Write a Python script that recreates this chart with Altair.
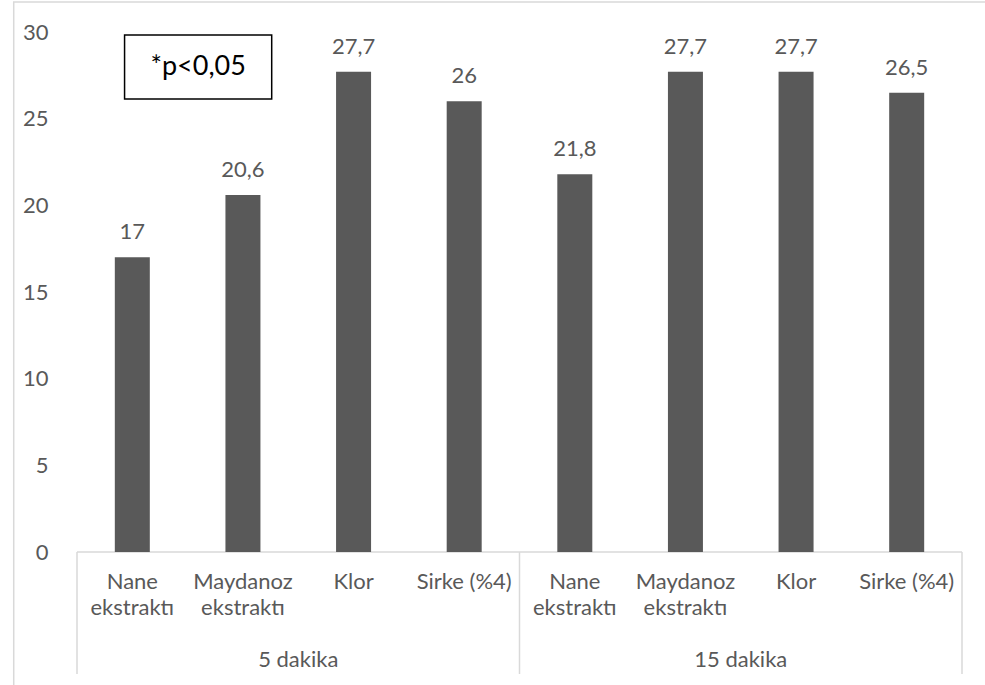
import altair as alt
import pandas as pd

# Data
groups = ["5 dakika"] * 4 + ["15 dakika"] * 4
treatments = ["Nane\nekstraktı", "Maydanoz\nekstraktı", "Klor", "Sirke (%4)"] * 2
values = [17, 20.6, 27.7, 26, 21.8, 27.7, 27.7, 26.5]
group_names = ["5 dakika", "15 dakika"]
note = "*p<0,05"

W, H = 895, 520
FONT = "Lato"
FS = 22
GREY = "#595959"
LINE = "#d9d9d9"

df = pd.DataFrame({
    "group": groups,
    "treatment": treatments,
    "value": values,
    "pos": [i + 0.5 for i in range(len(values))],
})
gdf = pd.DataFrame({"group": group_names, "pos": [2.0, 6.0], "row": [-6.23, -6.23]})
sep = pd.DataFrame({"edge": [0.0, 4.0, 8.0], "top": [0.0] * 3, "bottom": [-7.04] * 3})
axis_line = pd.DataFrame({"x0": [0.0], "x1": [8.0], "y0": [0.0]})
# note box and outer frame, in axis units
note_df = pd.DataFrame({"t": [note], "x0": [0.43], "x1": [1.76], "y0": [26.13], "y1": [29.83],
                        "xc": [1.095], "yc": [27.98]})
frame_df = pd.DataFrame({"x0": [-0.572], "x1": [8.25], "y0": [-9.8], "y1": [31.73]})

xs = alt.Scale(domain=[0, 8], nice=False, zero=False)
ys = alt.Scale(domain=[0, 30], nice=False)
NOX = None

base = alt.Chart(df)

frame = alt.Chart(frame_df).mark_rect(fill="transparent", stroke=LINE, strokeWidth=1.5).encode(
    x=alt.X("x0:Q", scale=xs, axis=NOX), x2="x1:Q",
    y=alt.Y("y0:Q", scale=ys), y2="y1:Q",
)

baseline = alt.Chart(axis_line).mark_rule(color=LINE, strokeWidth=1.5).encode(
    x=alt.X("x0:Q", scale=xs, axis=NOX), x2="x1:Q", y=alt.Y("y0:Q", scale=ys)
)

separators = alt.Chart(sep).mark_rule(color=LINE, strokeWidth=1.5).encode(
    x=alt.X("edge:Q", scale=xs, axis=NOX),
    y=alt.Y("top:Q", scale=ys), y2="bottom:Q",
)

bars = base.mark_bar(width=35, color=GREY).encode(
    x=alt.X("pos:Q", scale=xs, axis=NOX),
    y=alt.Y("value:Q", scale=ys, title=None,
            axis=alt.Axis(values=[0, 5, 10, 15, 20, 25, 30], grid=False,
                          domain=False, ticks=False, labelPadding=24,
                          labelFont=FONT, labelFontSize=FS, labelColor=GREY)),
)

value_labels = base.transform_calculate(
    lbl="replace(toString(datum.value), '.', ',')"
).mark_text(font=FONT, fontSize=FS, color=GREY, baseline="middle", dy=-25).encode(
    x=alt.X("pos:Q", scale=xs, axis=NOX), y=alt.Y("value:Q", scale=ys), text="lbl:N"
)

cat_labels = base.transform_calculate(row="-1.15").mark_text(
    font=FONT, fontSize=FS, color=GREY, baseline="top", lineBreak="\n", lineHeight=26
).encode(
    x=alt.X("pos:Q", scale=xs, axis=NOX), y=alt.Y("row:Q", scale=ys), text="treatment:N"
)

group_labels = alt.Chart(gdf).mark_text(font=FONT, fontSize=FS, color=GREY, baseline="middle").encode(
    x=alt.X("pos:Q", scale=xs, axis=NOX), y=alt.Y("row:Q", scale=ys), text="group:N"
)

note_box = alt.Chart(note_df).mark_rect(fill="white", stroke="black", strokeWidth=1.5).encode(
    x=alt.X("x0:Q", scale=xs, axis=NOX), x2="x1:Q",
    y=alt.Y("y0:Q", scale=ys), y2="y1:Q",
)

note_text = alt.Chart(note_df).mark_text(font=FONT, fontSize=27, color="black", baseline="middle").encode(
    x=alt.X("xc:Q", scale=xs, axis=NOX), y=alt.Y("yc:Q", scale=ys), text="t:N"
)

chart = alt.layer(
    frame, baseline, separators, bars, value_labels,
    cat_labels, group_labels, note_box, note_text
).properties(
    width=W, height=H,
    autosize=alt.AutoSizeParams(type="none"),
    padding={"left": 72, "top": 32, "right": 18, "bottom": 133},
    background="white",
).configure_view(strokeWidth=0)

chart.save("out.html", embed_options={"renderer": "svg", "actions": False})
